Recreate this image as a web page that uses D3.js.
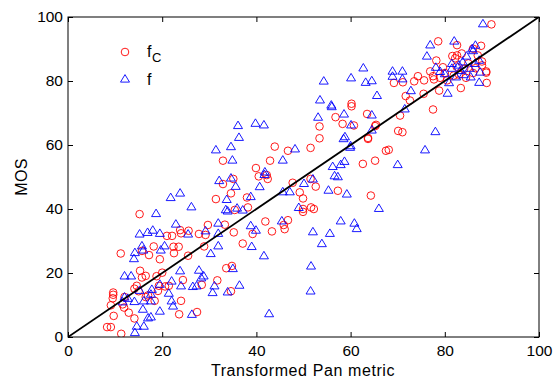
<!DOCTYPE html>
<html>
<head>
<meta charset="utf-8">
<script src="https://cdn.jsdelivr.net/npm/d3@7"></script>
<style>
html,body{margin:0;padding:0;background:#fff;}
text{font-family:"Liberation Sans",Arial,Helvetica,sans-serif;}
</style>
</head>
<body>
<svg id="chart" width="555" height="383"></svg>
<script>
// Data: f_C (red circles)
const fcPoints = [
[89.9,97.7],[78.6,92.4],[82.6,91.2],[87.7,91.0],[78.2,86.4],[81.6,87.8],[82.6,88.0],[86.0,90.1],[87.9,86.1],[87.9,84.9],[88.8,83.0],[88.8,82.6],[88.9,79.4],[83.4,77.8],[79.6,84.3],[76.9,83.0],[74.3,81.5],[73.5,79.9],[75.6,80.2],[77.5,81.5],[77.7,80.5],[78.8,77.0],[75.5,76.0],[71.7,75.3],[72.6,73.9],[77.5,71.1],[71.1,79.6],[69.2,79.4],[80.5,80.2],[81.9,81.7],[84.1,83.8],[82.2,87.1],[83.6,88.6],[80.0,82.5],[82.5,84.5],[85.0,85.5],[86.5,84.0],[84.5,81.0],[83.0,82.0],[86.0,82.5],[79.0,81.0],[87.0,88.0],
[60.2,72.9],[60.2,72.1],[56.8,68.7],[58.3,66.6],[60.7,66.1],[53.4,65.8],[53.4,62.1],[63.5,69.7],[63.7,62.2],[63.7,61.9],[65.4,66.3],[65.2,65.9],[70.5,69.2],[70.1,64.4],[71.0,64.0],[67.5,58.2],[68.1,58.5],[62.6,54.1],[65.2,55.1],[51.5,59.1],[46.7,58.2],[43.9,59.5],[39.9,52.8],[40.5,50.2],[42.9,55.1],[32.9,55.1],[32.9,47.8],[35.1,49.4],[42.2,50.6],[42.4,49.4],[31.4,43.1],[34.6,44.9],[35.4,39.7],[38.0,43.6],[38.2,40.5],[47.7,48.2],[49.2,45.2],[49.9,43.3],[49.9,40.0],[49.9,39.1],[51.5,49.4],[52.6,47.0],[51.6,40.5],[52.2,40.0],[57.3,45.7],[64.3,44.2],[41.9,36.1],[43.3,33.0],[46.7,36.5],[46.0,33.7],[45.8,35.0],[39.2,32.2],[37.1,29.2],[35.2,32.7],[33.3,35.1],[29.7,35.0],[29.2,31.9],[27.8,32.2],[28.9,28.3],[25.6,33.2],[23.8,33.4],[24.0,32.4],[22.1,31.6],[21.0,31.6],[22.4,28.2],[23.5,28.2],[22.5,26.2],[25.5,25.4],[18.2,28.3],[19.5,24.3],[15.2,38.4],[11.2,26.1],[15.7,26.9],[17.2,25.6],[15.3,20.7],[15.7,18.6],[16.5,19.1],[20.0,20.1],[19.3,16.0],[20.6,15.8],[21.4,16.0],[14.6,16.0],[14.1,15.1],[15.0,14.3],[19.1,14.4],[18.4,11.3],[16.5,12.5],[9.6,13.9],[9.6,13.2],[9.5,12.1],[9.1,9.9],[11.6,10.2],[11.9,9.2],[12.9,7.6],[9.7,6.6],[14.1,5.8],[8.3,3.1],[9.1,3.1],[11.3,1.0],[27.4,7.8],[23.6,7.1],[24.0,11.3],[24.4,17.8],[28.4,16.3],[31.7,17.7],[33.6,21.5],[34.8,22.2],[34.6,14.3],[17.0,13.0],[12.0,12.5],[18.8,19.0]
];
const fcX = fcPoints.map(d => d[0]);
const fcY = fcPoints.map(d => d[1]);

// Data: f (blue triangles)
const fPoints = [
[88.1,97.9],[82.0,92.5],[76.9,91.3],[76.2,87.8],[62.7,84.1],[68.9,83.1],[71.0,83.1],[68.9,81.5],[71.0,80.7],[60.1,81.0],[54.3,80.0],[63.2,79.6],[64.5,80.1],[65.6,75.5],[53.5,74.1],[55.9,72.5],[56.0,72.0],[53.1,68.7],[58.6,69.7],[64.5,69.4],[60.1,66.3],[64.5,64.7],[72.8,77.0],[71.5,71.3],[80.6,76.2],[75.8,58.5],[78.0,64.2],[70.0,53.9],[78.1,84.3],[79.0,83.0],
[81.5,84.0],[83.0,85.0],[83.8,86.0],[84.6,87.8],[85.8,90.1],[86.5,91.2],[87.3,86.5],[87.5,82.8],[85.5,81.3],[82.4,81.3],[80.0,82.3],[81.5,85.5],[83.3,83.3],[85.3,84.0],[86.4,85.5],[87.3,79.6],[84.0,82.0],[86.0,89.5],[80.9,79.5],
[58.8,62.6],[58.5,62.0],[59.9,59.3],[60.0,59.8],[58.7,54.9],[57.9,53.9],[56.2,53.3],[56.6,50.4],[57.3,50.1],[55.3,45.9],[59.2,44.7],[48.2,58.8],[45.6,55.3],[50.1,48.0],[52.0,49.4],[49.0,40.5],[45.6,45.4],[47.1,45.4],[66.0,40.2],[45.4,36.3],[57.9,36.3],[60.8,35.6],[61.3,33.9],[52.0,32.9],[53.9,29.2],[55.6,32.4],[51.6,22.2],[51.5,14.4],[42.7,7.3],[41.6,25.4],[39.0,28.3],[38.8,34.8],[39.9,33.4],[40.7,47.0],[41.8,51.6],[41.7,50.8],[39.8,66.8],[41.6,66.3],[36.1,66.1],[36.3,62.4],[34.6,59.5],[31.4,58.5],[34.9,55.3],[32.1,48.9],[34.6,49.7],[35.6,47.1],[33.7,43.0],[33.5,39.8],[33.9,39.4],[35.9,40.3],[37.1,39.7],[38.8,43.9],[31.9,35.6],[31.9,32.4],[31.9,28.5],[30.3,26.1],[29.2,33.2],[25.5,32.2],[22.9,35.3],[23.8,45.0],[21.8,43.6],[26.2,40.7],[18.7,38.6],[15.2,32.2],[16.9,32.7],[18.0,33.4],[19.5,32.4],[20.5,28.5],[19.7,27.2],[15.7,28.5],[16.0,27.2],[14.2,26.4],[14.0,24.5],[12.0,19.1],[13.4,19.1],[23.8,20.7],[27.8,20.9],[28.8,19.1],[24.0,16.0],[26.5,15.8],[28.3,18.5],[27.3,16.0],[31.1,16.0],[30.7,13.9],[33.9,14.1],[36.4,16.2],[35.0,21.4],[26.3,7.1],[22.0,17.5],[21.4,13.7],[22.0,11.3],[22.3,9.7],[19.5,16.5],[19.5,8.1],[17.8,14.9],[17.6,13.4],[17.6,11.3],[17.6,6.3],[15.9,8.7],[16.1,11.3],[15.2,14.6],[14.6,3.4],[16.1,3.4],[14.2,1.4],[14.1,11.1],[12.7,12.1],[11.6,11.0],[12.0,12.5],[17.0,6.0]
];
const fX = fPoints.map(d => d[0]);
const fY = fPoints.map(d => d[1]);

const xTicks = [0, 20, 40, 60, 80, 100];
const yTicks = [0, 20, 40, 60, 80, 100];
const fitLine = [[0, 0], [100, 100]];
const legendLabels = ["f", "f"];
const legendSubs = ["C", ""];
const xTitle = "Transformed Pan metric";
const yTitle = "MOS";

const svg = d3.select("#chart");
const L = 68, R = 539, T = 17, B = 337;
const x = d3.scaleLinear().domain([0, 100]).range([L, R]);
const y = d3.scaleLinear().domain([0, 100]).range([B, T]);

svg.append("rect").attr("width", 555).attr("height", 383).attr("fill", "#fff");

const tickLen = 5;
const axB = svg.append("g").attr("transform", `translate(0,${B})`)
  .call(d3.axisBottom(x).tickValues(xTicks).tickSizeInner(-tickLen).tickSizeOuter(0).tickPadding(8));
const axT = svg.append("g").attr("transform", `translate(0,${T})`)
  .call(d3.axisTop(x).tickValues(xTicks).tickSizeInner(-tickLen).tickSizeOuter(0).tickFormat(""));
const axL = svg.append("g").attr("transform", `translate(${L},0)`)
  .call(d3.axisLeft(y).tickValues(yTicks).tickSizeInner(-tickLen).tickSizeOuter(0).tickPadding(5));
const axR = svg.append("g").attr("transform", `translate(${R},0)`)
  .call(d3.axisRight(y).tickValues(yTicks).tickSizeInner(-tickLen).tickSizeOuter(0).tickFormat(""));
[axB, axT, axL, axR].forEach(a => {
  a.select(".domain").remove();
  a.selectAll("line").attr("stroke", "#000").attr("stroke-width", 1);
  a.selectAll("text").attr("font-size", 15.5).attr("fill", "#000")
    .attr("font-family", "'Liberation Sans', Arial, sans-serif");
});
axB.selectAll("text").attr("dy", "0.71em");

svg.append("defs").append("clipPath").attr("id", "clip")
  .append("rect").attr("x", L).attr("y", T).attr("width", R - L).attr("height", B - T);
const plot = svg.append("g").attr("clip-path", "url(#clip)");

plot.selectAll("circle.fc").data(d3.range(fcX.length)).join("circle")
  .attr("class", "fc")
  .attr("cx", i => x(fcX[i])).attr("cy", i => y(fcY[i])).attr("r", 3.8)
  .attr("fill", "none").attr("stroke", "#ff0000").attr("stroke-width", 0.9);

const tri = "M0,-4.4L4.5,3.1L-4.5,3.1Z";
plot.selectAll("path.f").data(d3.range(fX.length)).join("path")
  .attr("class", "f")
  .attr("d", tri)
  .attr("transform", i => `translate(${x(fX[i])},${y(fY[i])})`)
  .attr("fill", "none").attr("stroke", "#0000ff").attr("stroke-width", 0.9);

plot.append("path").datum(fitLine)
  .attr("d", d3.line().x(d => x(d[0])).y(d => y(d[1])))
  .attr("stroke", "#000").attr("stroke-width", 1.8).attr("fill", "none");

svg.append("rect").attr("x", L).attr("y", T).attr("width", R - L).attr("height", B - T)
  .attr("fill", "none").attr("stroke", "#000").attr("stroke-width", 1);

const lg = svg.append("g");
lg.append("circle").attr("cx", 125).attr("cy", 52).attr("r", 3.8)
  .attr("fill", "none").attr("stroke", "#ff0000").attr("stroke-width", 0.9);
lg.append("path").attr("d", tri).attr("transform", "translate(125,79)")
  .attr("fill", "none").attr("stroke", "#0000ff").attr("stroke-width", 0.9);
const t1 = lg.append("text").attr("x", 147).attr("y", 57).attr("font-size", 16).attr("fill", "#000");
t1.append("tspan").text(legendLabels[0]);
t1.append("tspan").attr("font-size", 13).attr("dy", 5).attr("dx", 0.5).text(legendSubs[0]);
lg.append("text").attr("x", 147).attr("y", 85).attr("font-size", 16).attr("fill", "#000").text(legendLabels[1]);

svg.append("text").attr("x", 303).attr("y", 376).attr("text-anchor", "middle")
  .attr("font-size", 16).attr("letter-spacing", 0.6).attr("fill", "#000").text(xTitle);
svg.append("text").attr("transform", `translate(27,${(T + B) / 2}) rotate(-90)`)
  .attr("text-anchor", "middle").attr("font-size", 16).attr("letter-spacing", 0.4).attr("fill", "#000").text(yTitle);
</script>
</body>
</html>
